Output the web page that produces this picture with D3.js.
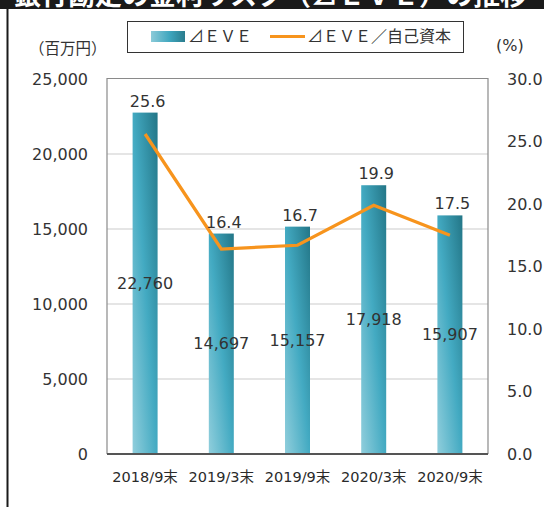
<!DOCTYPE html>
<html>
<head>
<meta charset="utf-8">
<script src="https://cdn.jsdelivr.net/npm/d3@7"></script>
<style>
  html, body { margin: 0; padding: 0; background: #fff; }
  svg { display: block; }
  text { fill: #333; }
</style>
</head>
<body>
<div id="chart"></div>
<script>
// data
const categories = ["2018/9末", "2019/3末", "2019/9末", "2020/3末", "2020/9末"];
const eveValues = [22760, 14697, 15157, 17918, 15907];      // 百万円
const eveRatio = [25.6, 16.4, 16.7, 19.9, 17.5];           // %
const leftTicks = [0, 5000, 10000, 15000, 20000, 25000];
const rightTicks = [0, 5, 10, 15, 20, 25, 30];

const W = 544, H = 507;
const plot = { left: 107, right: 488, top: 79, bottom: 454 };

const svg = d3.select("#chart").append("svg")
    .attr("width", W)
    .attr("height", H);

const defs = svg.append("defs");

// bar gradient (light bottom-left -> dark top-right)
const grad = defs.append("linearGradient")
    .attr("id", "barGrad")
    .attr("x1", 0).attr("y1", 1).attr("x2", 1).attr("y2", 0);
grad.append("stop").attr("offset", "0%").attr("stop-color", "#90cedc");
grad.append("stop").attr("offset", "50%").attr("stop-color", "#43aac2");
grad.append("stop").attr("offset", "100%").attr("stop-color", "#237687");

const legGrad = defs.append("linearGradient")
    .attr("id", "legGrad")
    .attr("x1", 0).attr("y1", 0).attr("x2", 1).attr("y2", 0);
legGrad.append("stop").attr("offset", "0%").attr("stop-color", "#8ccbd9");
legGrad.append("stop").attr("offset", "55%").attr("stop-color", "#3fa6be");
legGrad.append("stop").attr("offset", "100%").attr("stop-color", "#2a7c8d");

defs.append("clipPath").attr("id", "bandClip")
    .append("rect").attr("x", 0).attr("y", 0).attr("width", W).attr("height", 9);

// title band (cut off at the top of the picture)
svg.append("rect")
    .attr("x", 0).attr("y", 0)
    .attr("width", W).attr("height", 9)
    .attr("fill", "#1a1a1a");
svg.append("text")
    .attr("clip-path", "url(#bandClip)")
    .attr("x", 14).attr("y", 5)
    .style("font-family", "'Noto Sans CJK JP'")
    .style("font-size", "27px")
    .style("font-weight", "bold")
    .style("fill", "#fff")
    .text("銀行勘定の金利リスク（⊿ＥＶＥ）の推移");

// left border line
svg.append("rect")
    .attr("x", 6.5).attr("y", 0)
    .attr("width", 2).attr("height", H)
    .attr("fill", "#1a1a1a");

// scales
const x = d3.scaleBand()
    .domain(categories)
    .range([plot.left, plot.right])
    .paddingInner(0.672)
    .paddingOuter(0.336);

const yL = d3.scaleLinear().domain([0, 25000]).range([plot.bottom, plot.top]);
const yR = d3.scaleLinear().domain([0, 30]).range([plot.bottom, plot.top]);

// gridlines
svg.append("g")
    .selectAll("line")
    .data(leftTicks.slice(1, -1))
    .join("line")
    .attr("x1", plot.left).attr("x2", plot.right)
    .attr("y1", d => yL(d)).attr("y2", d => yL(d))
    .attr("stroke", "#dcdcdc")
    .attr("stroke-width", 1.5);

// frame
svg.append("path")
    .attr("d", `M${plot.left},${plot.bottom}V${plot.top - 0.5}H${plot.right}V${plot.bottom}`)
    .attr("fill", "none")
    .attr("stroke", "#8a8a8a")
    .attr("stroke-width", 1.2);

// left axis
const axisL = svg.append("g")
    .attr("transform", `translate(${plot.left},0)`)
    .call(d3.axisLeft(yL).tickValues(leftTicks).tickFormat(d3.format(",")).tickSize(0).tickPadding(19));
axisL.select(".domain").remove();
axisL.selectAll("text")
    .style("font-family", "'DejaVu Sans'")
    .style("font-size", "16px")
    .style("fill", "#333");

// right axis
const axisR = svg.append("g")
    .attr("transform", `translate(${plot.right},0)`)
    .call(d3.axisRight(yR).tickValues(rightTicks).tickFormat(d3.format(".1f")).tickSize(0).tickPadding(19));
axisR.select(".domain").remove();
axisR.selectAll("text")
    .style("font-family", "'DejaVu Sans'")
    .style("font-size", "16px")
    .style("fill", "#333");

// bars
svg.append("g")
    .selectAll("rect")
    .data(eveValues)
    .join("rect")
    .attr("x", (d, i) => x(categories[i]))
    .attr("y", d => yL(d))
    .attr("width", x.bandwidth())
    .attr("height", d => plot.bottom - yL(d))
    .attr("fill", "url(#barGrad)");

// bottom axis line
svg.append("line")
    .attr("x1", plot.left).attr("x2", plot.right)
    .attr("y1", plot.bottom).attr("y2", plot.bottom)
    .attr("stroke", "#555")
    .attr("stroke-width", 2);

// category labels
const axisB = svg.append("g")
    .attr("transform", `translate(0,${plot.bottom})`)
    .attr("font-family", null)
    .attr("font-size", null)
    .call(d3.axisBottom(x).tickSize(0).tickPadding(18));
axisB.select(".domain").remove();
axisB.attr("font-family", "'DejaVu Sans', 'Noto Sans CJK JP'").attr("font-size", 14.5);
axisB.selectAll("text")
    .style("font-family", "'DejaVu Sans', 'Noto Sans CJK JP'")
    .style("font-size", "14.5px")
    .style("fill", "#2a2a2a");

// ratio line
const line = d3.line()
    .x((d, i) => x(categories[i]) + x.bandwidth() / 2)
    .y(d => yR(d));

svg.append("path")
    .datum(eveRatio)
    .attr("d", line)
    .attr("fill", "none")
    .attr("stroke", "#f7941d")
    .attr("stroke-width", 3.2)
    .attr("stroke-linejoin", "miter");

// ratio labels above the bars
svg.append("g")
    .selectAll("text")
    .data(eveRatio)
    .join("text")
    .attr("x", (d, i) => x(categories[i]) + x.bandwidth() / 2 + 2.5)
    .attr("y", (d, i) => yL(eveValues[i]) - 6)
    .attr("text-anchor", "middle")
    .style("font-family", "'DejaVu Sans'")
    .style("font-size", "16px")
    .text(d => d.toFixed(1));

// value labels in the middle of the bars
svg.append("g")
    .selectAll("text")
    .data(eveValues)
    .join("text")
    .attr("x", (d, i) => x(categories[i]) + x.bandwidth() / 2)
    .attr("y", d => (yL(d) + plot.bottom) / 2)
    .attr("dy", "0.35em")
    .attr("text-anchor", "middle")
    .style("font-family", "'DejaVu Sans'")
    .style("font-size", "16px")
    .text(d => d3.format(",")(d));

// units
svg.append("text")
    .attr("x", 29).attr("y", 54)
    .style("font-family", "'Noto Sans CJK JP'")
    .style("font-size", "15.5px")
    .text("（百万円）");
svg.append("text")
    .attr("x", 496).attr("y", 51)
    .style("font-family", "'DejaVu Sans'")
    .style("font-size", "16px")
    .text("(%)");

// legend
const legend = svg.append("g");
legend.append("rect")
    .attr("x", 127.5).attr("y", 21.5)
    .attr("width", 336).attr("height", 31)
    .attr("fill", "#fff")
    .attr("stroke", "#333")
    .attr("stroke-width", 1);
legend.append("rect")
    .attr("x", 151).attr("y", 31)
    .attr("width", 34).attr("height", 11)
    .attr("fill", "url(#legGrad)");
legend.append("text")
    .attr("x", 188).attr("y", 42)
    .style("font-family", "'Noto Sans CJK JP'")
    .style("font-size", "16px")
    .text("⊿ＥＶＥ");
legend.append("line")
    .attr("x1", 270).attr("x2", 305)
    .attr("y1", 36.5).attr("y2", 36.5)
    .attr("stroke", "#f7941d")
    .attr("stroke-width", 3.2);
legend.append("text")
    .attr("x", 307).attr("y", 42)
    .style("font-family", "'Noto Sans CJK JP'")
    .style("font-size", "16px")
    .text("⊿ＥＶＥ／自己資本");
</script>
</body>
</html>
